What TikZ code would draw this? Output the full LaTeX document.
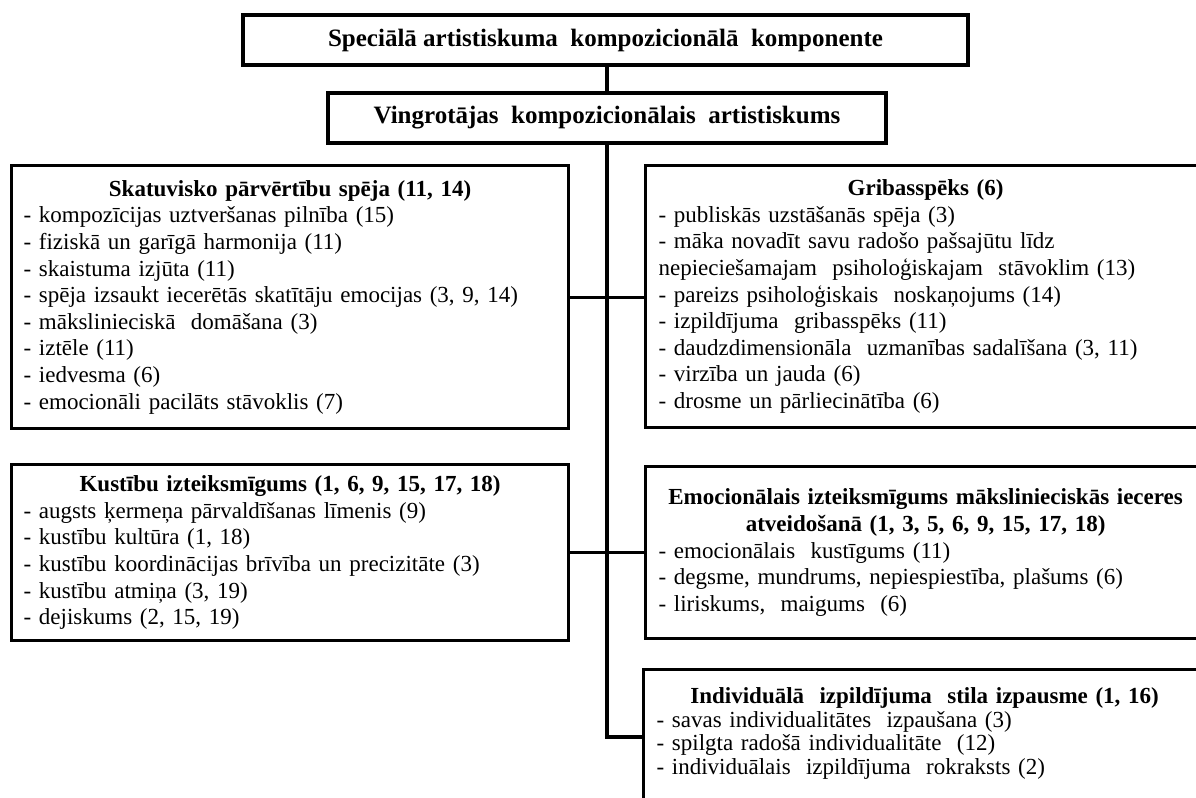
\documentclass[tikz,border=0pt]{standalone}
\usepackage{fontspec}
\setmainfont{Liberation Serif}
\usetikzlibrary{calc}

\newcommand{\ttl}[1]{{\centering\bfseries #1\par}}

\begin{document}
\begin{tikzpicture}[x=0.5pt, y=-0.5pt,
  galva/.style={draw, line width=1.6pt, inner sep=0pt,
    font=\fontsize{12.5}{15}\selectfont\bfseries},
  saraksts/.style={draw, line width=1.6pt, anchor=north west, align=left,
    inner xsep=6pt, inner ysep=3pt, font=\fontsize{11.5}{13.3}\selectfont},
  saite/.style={line width=1.6pt}]
\clip (0,0) rectangle (1196,798);

\node[galva, minimum width=362.5pt, minimum height=25pt] (spec) at (605.5,40)
  {Speciālā artistiskuma\ \ kompozicionālā\ \ komponente};
\node[galva, minimum width=279pt, minimum height=25pt] (ving) at (607,118)
  {Vingrotājas\ \ kompozicionālais\ \ artistiskums};

\node[saraksts, text width=266.5pt, minimum height=131.5pt] (skat) at (10,164)
  {\ttl{Skatuvisko pārvērtību spēja (11, 14)}
   - kompozīcijas uztveršanas pilnība (15)\\
   - fiziskā un garīgā harmonija (11)\\
   - skaistuma izjūta (11)\\
   - spēja izsaukt iecerētās skatītāju emocijas (3, 9, 14)\\
   - mākslinieciskā\ \ domāšana (3)\\
   - iztēle (11)\\
   - iedvesma (6)\\
   - emocionāli pacilāts stāvoklis (7)};

\node[saraksts, text width=266.5pt, minimum height=88pt] (kust) at (10,463)
  {\ttl{Kustību izteiksmīgums (1, 6, 9, 15, 17, 18)}
   - augsts ķermeņa pārvaldīšanas līmenis (9)\\
   - kustību kultūra (1, 18)\\
   - kustību koordinācijas brīvība un precizitāte (3)\\
   - kustību atmiņa (3, 19)\\
   - dejiskums (2, 15, 19)};

\node[saraksts, inner xsep=6.5pt, text width=267pt, minimum height=131pt] (grib) at (644,164)
  {\ttl{Gribasspēks (6)}
   - publiskās uzstāšanās spēja (3)\\
   - māka novadīt savu radošo pašsajūtu līdz\\
   nepieciešamajam\ \ psiholoģiskajam\ \ stāvoklim (13)\\
   - pareizs psiholoģiskais\ \ noskaņojums (14)\\
   - izpildījuma\ \ gribasspēks (11)\\
   - daudzdimensionāla\ \ uzmanības sadalīšana (3, 11)\\
   - virzība un jauda (6)\\
   - drosme un pārliecinātība (6)};

\node[saraksts, inner xsep=6.5pt, text width=267pt, minimum height=86pt] (emoc) at (644,465)
  {\ttl{Emocionālais izteiksmīgums mākslinieciskās ieceres\\
        atveidošanā (1, 3, 5, 6, 9, 15, 17, 18)}
   - emocionālais\ \ kustīgums (11)\\
   - degsme, mundrums, nepiespiestība, plašums (6)\\
   - liriskums,\ \ maigums\ \ (6)};

\node[saraksts, inner xsep=6.5pt, inner ysep=9pt, text width=268pt, text depth=80pt,
  font=\fontsize{11.5}{11.8}\selectfont] (indiv) at (642,668)
  {\ttl{Individuālā\ \ izpildījuma\ \ stila izpausme (1, 16)}
   - savas individualitātes\ \ izpaušana (3)\\
   - spilgta radošā individualitāte\ \ (12)\\
   - individuālais\ \ izpildījuma\ \ rokraksts (2)};

\coordinate (lejas) at (607,737);
\draw[saite] (ving.north |- spec.south) -- (ving.north);
\draw[saite] (ving.south) -- (lejas) -- (lejas -| indiv.west);
\draw[saite] (skat.east) -- (skat.east -| grib.west);
\draw[saite] (kust.east) -- (kust.east -| emoc.west);
\end{tikzpicture}
\end{document}
